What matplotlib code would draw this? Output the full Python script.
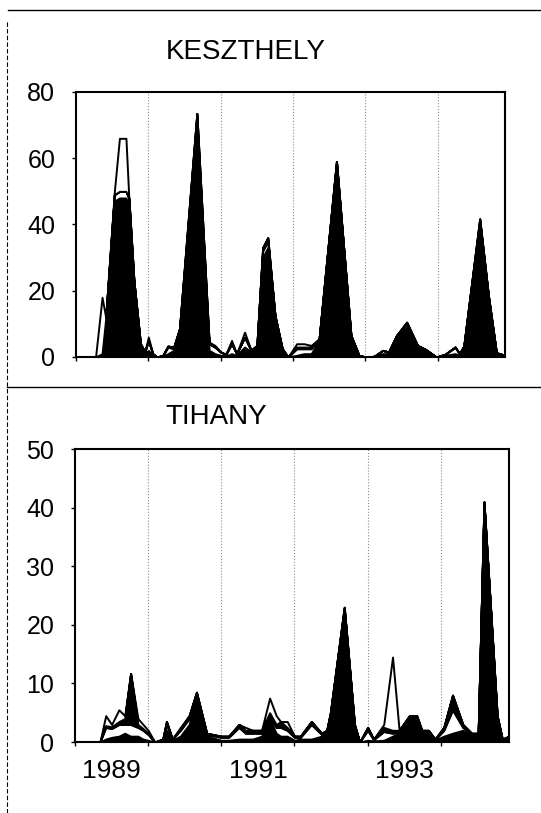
import matplotlib
matplotlib.use("Agg")
import matplotlib.pyplot as plt
from matplotlib.lines import Line2D

plt.rcParams['font.family'] = ['Liberation Sans', 'DejaVu Sans']

# KESZTHELY: sampling dates (decimal years) and four stacked layers
k_dates = [1989.00, 1989.27, 1989.36, 1989.41, 1989.53, 1989.60, 1989.69, 1989.73, 1989.80, 1989.89, 1989.95,
           1990.00, 1990.06, 1990.12, 1990.20, 1990.27, 1990.35, 1990.43, 1990.67, 1990.84, 1990.92,
           1991.00, 1991.07, 1991.15, 1991.22, 1991.33, 1991.42, 1991.50, 1991.58, 1991.65, 1991.75, 1991.85, 1991.93,
           1992.05, 1992.15, 1992.25, 1992.36, 1992.60, 1992.80, 1992.91,
           1993.00, 1993.12, 1993.24, 1993.32, 1993.43, 1993.57, 1993.72, 1993.83, 1993.98,
           1994.10, 1994.24, 1994.30, 1994.36, 1994.58, 1994.70, 1994.81, 1994.93]
k_l1 = [0, 0, 1, 11, 47, 48, 48, 46, 22, 3, 1,
        2, 0.5, 0, 0.3, 1, 2, 8, 62, 2, 1,
        0.5, 0.3, 1, 0.5, 3, 1.5, 3, 30, 33, 12, 2, 0,
        0.5, 1, 1, 5, 58, 6, 0.5,
        0, 0.2, 1, 1, 6, 9, 3, 2, 0,
        0.5, 1, 0.5, 3, 40, 18, 1, 0.3]
k_l2 = [0, 0, 0, 0.5, 2, 2, 2, 2, 1, 1, 0.5,
        3, 0.5, 0, 0.2, 2, 0.5, 0.5, 1, 2, 2,
        1, 0.5, 3, 0.5, 3, 0.5, 0.5, 2, 2, 0.5, 0.5, 0,
        2, 1.5, 1.5, 0.5, 1, 0.5, 0,
        0, 0, 1, 0.5, 0.5, 1, 0.5, 0.3, 0,
        0.3, 2, 0.5, 0.3, 1, 0.5, 0.3, 0.2]
k_l3 = [0, 0, 0, 0, 0, 0, 0, 0, 0, 0, 0,
        0, 0, 0, 0, 0.3, 0.5, 0, 10.5, 0, 0,
        0, 0, 0, 0, 0, 0, 0, 1, 1, 0, 0, 0,
        0.5, 0.5, 0.5, 0, 0, 0, 0,
        0, 0, 0, 0, 0, 0.5, 0, 0, 0,
        0, 0, 0, 0, 0.7, 0, 0, 0]
k_l4 = [0, 0, 17, 0.5, 1, 16, 16, 0, 0, 0, 0,
        1, 0, 0, 0, 0, 0, 0, 0, 0.5, 0.5,
        0, 0, 1, 0, 1.5, 0, 0, 0, 0, 0, 0, 0,
        1, 1, 0.5, 0, 0, 0, 0,
        0, 0, 0, 0, 0, 0, 0, 0, 0,
        0, 0, 0, 0, 0, 0, 0, 0]

# TIHANY
t_dates = [1989.00, 1989.34, 1989.42, 1989.50, 1989.60, 1989.68, 1989.76, 1989.86, 1989.93,
           1990.00, 1990.09, 1990.20, 1990.25, 1990.33, 1990.44, 1990.56, 1990.66, 1990.80,
           1991.00, 1991.10, 1991.24, 1991.33, 1991.43, 1991.55, 1991.66, 1991.75, 1991.81, 1991.90,
           1992.00, 1992.08, 1992.23, 1992.37, 1992.44, 1992.49, 1992.68, 1992.82, 1992.89,
           1993.00, 1993.08, 1993.22, 1993.34, 1993.43, 1993.57, 1993.67, 1993.74, 1993.83, 1993.92,
           1994.04, 1994.16, 1994.30, 1994.42, 1994.51, 1994.59, 1994.77, 1994.84, 1994.93]
t_l1 = [0, 0, 0.5, 0.8, 1, 1.5, 1, 1, 0.5,
        0.3, 0, 0.3, 2, 0.3, 1, 3, 8, 1,
        0.3, 0.3, 0.5, 0.5, 0.5, 1, 4, 1.5, 1, 1,
        0.3, 0.5, 0.5, 1, 1.5, 4.5, 22.5, 2.5, 0,
        0.3, 0.2, 0.3, 1, 1.5, 4, 4, 1.5, 1.5, 0.3,
        1, 1.5, 2, 1, 1, 40.5, 4, 0.3, 0.6]
t_l2 = [0, 0, 2, 1.5, 2, 1.5, 2, 1.5, 1.5,
        1, 0, 0.2, 1, 0.2, 1, 1, 0.3, 0.3,
        0.5, 0.5, 2, 1, 1, 0.5, 0.5, 1, 1.5, 1,
        0.5, 0.3, 2.5, 0.3, 0.3, 0.3, 0.3, 0.3, 0,
        1.7, 0.2, 1.5, 0.5, 0.2, 0.2, 0.2, 0.2, 0.2, 0.1,
        1, 4, 0.5, 0.3, 0.3, 0.3, 0.3, 0.1, 0.2]
t_l3 = [0, 0, 0.3, 0.3, 0.5, 1, 8.7, 0.5, 0.3,
        0.2, 0, 0, 0.5, 0, 0.3, 0.5, 0.2, 0.2,
        0.2, 0.2, 0.5, 0.5, 0.5, 0.5, 0.5, 0.5, 1, 0.5,
        0.2, 0.2, 0.5, 0.2, 0.2, 0.2, 0.2, 0.2, 0,
        0.5, 0.1, 0.7, 0.5, 0.3, 0.3, 0.3, 0.3, 0.3, 0.1,
        0.5, 2.5, 0.5, 0.2, 0.2, 0.2, 0.2, 0.1, 0.2]
t_l4 = [0, 0, 1.7, 0.4, 2, 0.5, 0, 1, 0.7,
        0.5, 0, 0, 0, 0, 0.2, 0, 0, 0,
        0, 0, 0, 0.5, 0, 0, 2.5, 1.5, 0, 1,
        0, 0, 0, 0, 0, 0, 0, 0, 0,
        0, 0, 0.5, 12.5, 0, 0, 0, 0, 0, 0,
        0, 0, 0, 0, 0, 0, 0, 0, 0]

years = [1989, 1990, 1991, 1992, 1993, 1994]
year_labels = ['1989', '1991', '1993']
label_pos = [1989.5, 1991.5, 1993.5]

layer_colors = ['black', 'white', 'black', 'white']

fig = plt.figure(figsize=(5.41, 8.13), dpi=100)
ax1 = fig.add_axes([0.1405, 0.5609, 0.793, 0.326])
ax2 = fig.add_axes([0.1386, 0.0873, 0.802, 0.3604])

panels = [
    (ax1, k_dates, [k_l1, k_l2, k_l3, k_l4], 80, [0, 20, 40, 60, 80]),
    (ax2, t_dates, [t_l1, t_l2, t_l3, t_l4], 50, [0, 10, 20, 30, 40, 50]),
]

for ax, d, layers, ymax, yt in panels:
    for y in years[1:]:
        ax.axvline(y, color='0.55', linestyle=':', linewidth=0.8, zorder=0)
    ax.stackplot(d, *layers, colors=layer_colors, edgecolor='black', linewidth=1.4, zorder=2)
    ax.set_xlim(1989.0, 1994.93)
    ax.set_ylim(0, ymax)
    ax.set_yticks(yt)
    ax.set_xticks(years)
    ax.set_xticklabels([])
    ax.tick_params(axis='both', direction='out', length=3, width=1, labelsize=18, pad=12)
    for s in ax.spines.values():
        s.set_linewidth(1.5)

ax2.set_xticks(label_pos, minor=True)
ax2.set_xticklabels(year_labels, minor=True)
ax2.tick_params(axis='x', which='minor', length=0, labelsize=19, pad=12)

fig.text(0.455, 0.936, 'KESZTHELY', fontsize=20, ha='center', va='center')
fig.text(0.399, 0.487, 'TIHANY', fontsize=20, ha='center', va='center')

# scan frame lines
fig.add_artist(Line2D([0.015, 1.0], [0.988, 0.988], color='black', linewidth=1.0))
fig.add_artist(Line2D([0.013, 1.0], [0.524, 0.524], color='black', linewidth=1.0))
fig.add_artist(Line2D([0.013, 0.013], [0.0, 0.975], color='black', linewidth=0.8, linestyle=(0, (4, 2))))

fig.savefig("out.png", dpi=100)
